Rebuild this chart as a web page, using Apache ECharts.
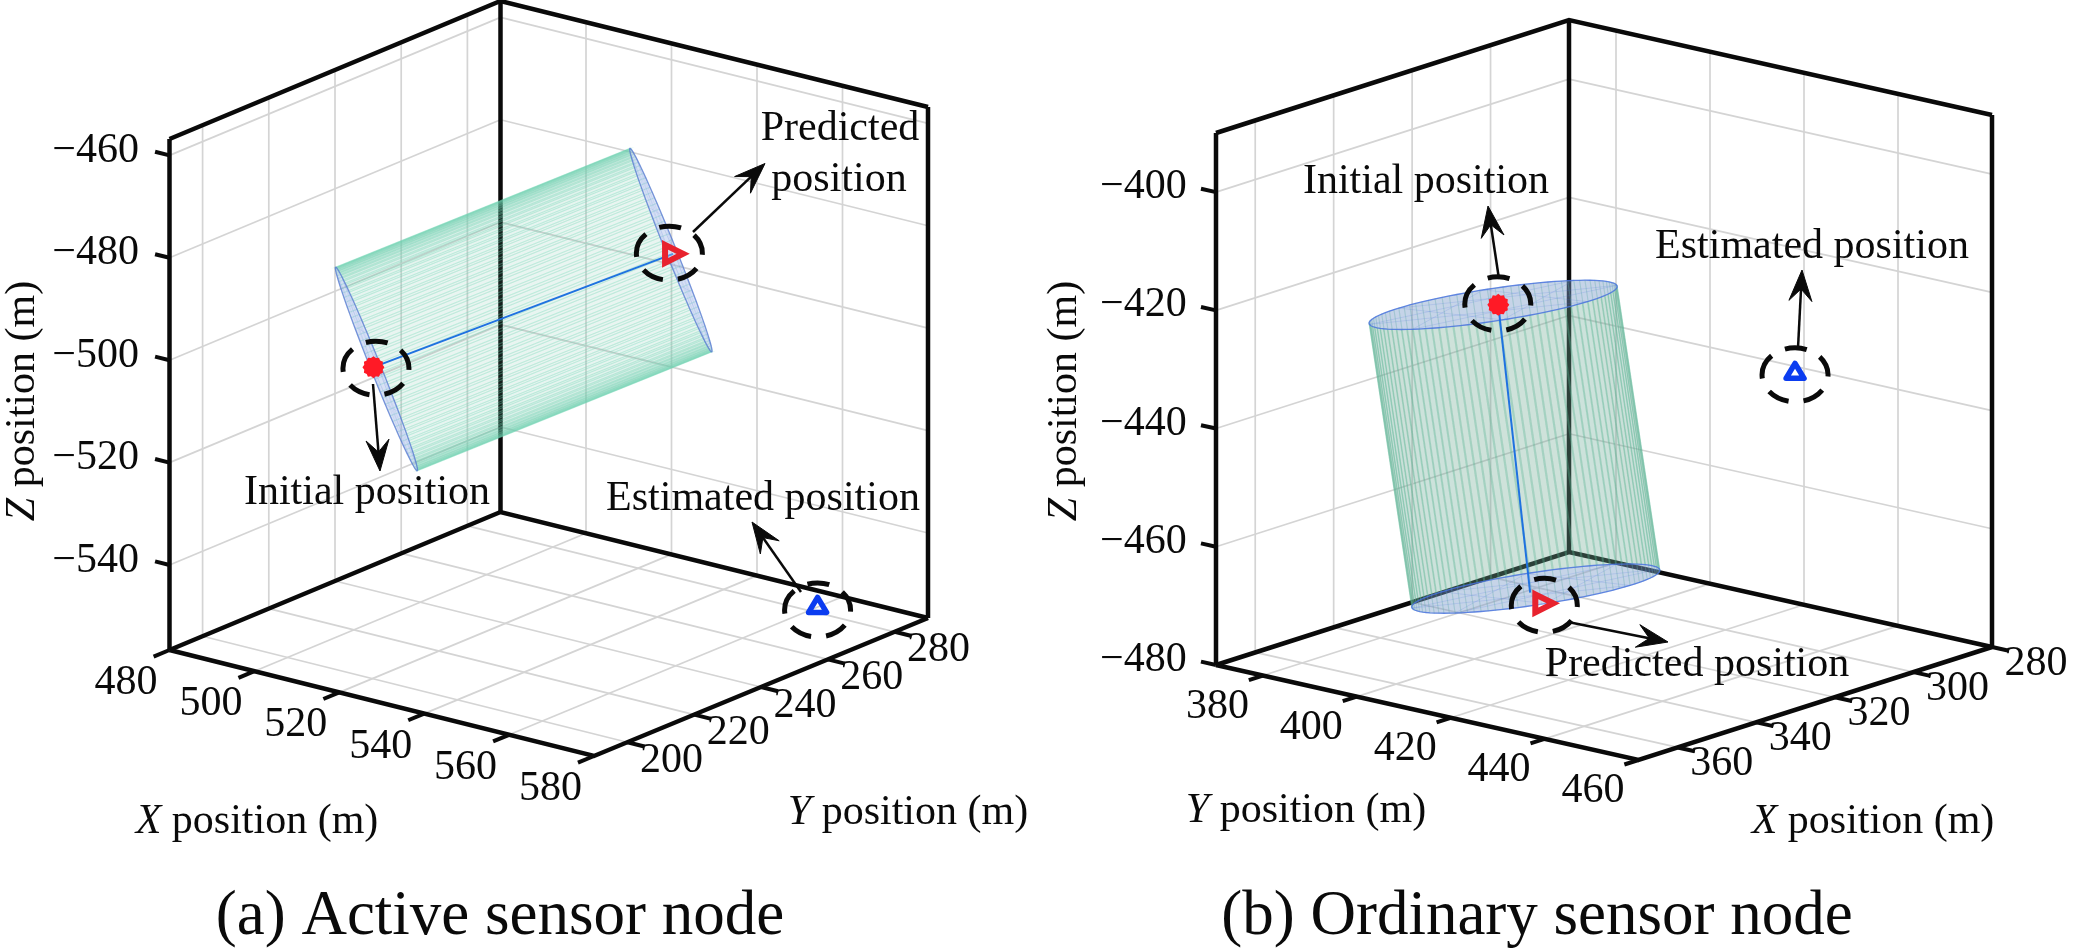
<!DOCTYPE html>
<html><head><meta charset="utf-8">
<script src="https://cdn.jsdelivr.net/npm/echarts@6/dist/echarts.min.js"></script>
<style>html,body{margin:0;padding:0;background:#fff}#c{width:2079px;height:952px}</style>
</head><body><div id="c"></div>
<script>
// ---- values (metres) ----
const xTicksA=[480,500,520,540,560,580];
const yTicksA=[200,220,240,260,280];
const zTicksA=[-540,-520,-500,-480,-460];
const initialA=[500,225.9,-506.9];
const cylStartA=[500,226.8,-507.5];
const cylEndA=[540.27,263.77,-485.91];
const predictedA=[539.2,265.8,-487.4];
const estimatedA=[569,271,-551.4];
const radiusA=20.3;

const xTicksB=[280,300,320,340,360];
const yTicksB=[380,400,420,440,460];
const zTicksB=[-480,-460,-440,-420,-400];
const initialB=[330,396.7,-422.8];
const topCentreB=[330,395.6,-423];
const bottomCentreB=[330.5,405.1,-469.2];
const lineEndB=[330.5,403.9,-470.1];
const predictedB=[330.5,406.7,-471.4];
const estimatedB=[300,434.8,-433.7];
const radiusB=20.5;

const FONT='"Liberation Serif"';
const panelA={xr:[480,580],yr:[190,290],zr:[-556.6,-456.8],height:511,
  c00:[169.5,650],c10:[594,756],c01:[500.5,512],c11:[928,618]};
const panelB={xr:[280,370],yr:[370,460],zr:[-480,-390],height:532,
  c00:[1569,552],c10:[1216,665],c01:[1992,647],c11:[1638.5,760]};

function proj(p,x,y,z){
  const u=(x-p.xr[0])/(p.xr[1]-p.xr[0]), v=(y-p.yr[0])/(p.yr[1]-p.yr[0]), w=(z-p.zr[0])/(p.zr[1]-p.zr[0]);
  const sx=(1-u)*(1-v)*p.c00[0]+u*(1-v)*p.c10[0]+(1-u)*v*p.c01[0]+u*v*p.c11[0];
  const sy=(1-u)*(1-v)*p.c00[1]+u*(1-v)*p.c10[1]+(1-u)*v*p.c01[1]+u*v*p.c11[1];
  return [sx,sy-w*p.height];
}
const P3=(p,a)=>proj(p,a[0],a[1],a[2]);

const under=[],over=[];
const GRID={stroke:'#d4d4d4',lineWidth:1.7,fill:null};
const AX={stroke:'#0a0a0a',lineWidth:4.5,fill:null,lineJoin:'miter'};
function pl(layer,pts,style){layer.push({k:'polyline',pts,style});}
function pg(layer,pts,style){layer.push({k:'polygon',pts,style});}
function txt(layer,x,y,text,o={}){layer.push({k:'text',x,y,text,...o});}

function frame(p,xT,yT,zT,wallX,wallY){
  const [x0,x1]=p.xr,[y0,y1]=p.yr,[z0,z1]=p.zr;
  xT.forEach(x=>{
    pl(under,[proj(p,x,y0,z0),proj(p,x,y1,z0)],GRID);
    pl(under,[proj(p,x,wallY,z0),proj(p,x,wallY,z1)],GRID);
  });
  yT.forEach(y=>{
    pl(under,[proj(p,x0,y,z0),proj(p,x1,y,z0)],GRID);
    pl(under,[proj(p,wallX,y,z0),proj(p,wallX,y,z1)],GRID);
  });
  zT.forEach(z=>{
    pl(under,[proj(p,x0,wallY,z),proj(p,x1,wallY,z)],GRID);
    pl(under,[proj(p,wallX,y0,z),proj(p,wallX,y1,z)],GRID);
  });
}
function box(p,corners,xT,yT,zT,xSide,ySide,zEdge,tick,lab){
  const [z0,z1]=p.zr;
  const {L,B,R,F}=corners;
  const f=c=>proj(p,c[0],c[1],z0), t=c=>proj(p,c[0],c[1],z1);
  pl(under,[f(L),f(B),f(R)],AX);
  pl(over,[f(L),f(F),f(R)],AX);
  pl(over,[t(L),t(B),t(R)],AX);
  pl(over,[f(L),t(L)],AX);
  pl(over,[f(R),t(R)],AX);
  pl(under,[f(B),t(B)],AX);
  const TK={stroke:'#0a0a0a',lineWidth:4,fill:null};
  xT.forEach(x=>{const a=proj(p,x,xSide,z0),b=proj(p,x,xSide+tick.x,z0);pl(over,[a,b],TK);
    txt(over,a[0]+lab.x[0],a[1]+lab.x[1],String(x),{size:42});});
  yT.forEach(y=>{const a=proj(p,ySide,y,z0),b=proj(p,ySide+tick.y,y,z0);pl(over,[a,b],TK);
    txt(over,a[0]+lab.y[0],a[1]+lab.y[1],String(y),{size:42});});
  zT.forEach(z=>{const a=proj(p,zEdge[0],zEdge[1],z),b=proj(p,zEdge[0]+tick.z[0],zEdge[1]+tick.z[1],z);pl(over,[a,b],TK);
    txt(over,a[0]+lab.z[0],a[1]+lab.z[1],'\u2212'+Math.abs(z),{size:42,align:'right'});});
}

function basis(ax){
  const n=Math.hypot(...ax),d=ax.map(v=>v/n);
  const h=Math.abs(d[2])<0.9?[0,0,1]:[1,0,0];
  const c=(a,b)=>[a[1]*b[2]-a[2]*b[1],a[2]*b[0]-a[0]*b[2],a[0]*b[1]-a[1]*b[0]];
  let e1=c(d,h);const m=Math.hypot(...e1);e1=e1.map(v=>v/m);
  return [e1,c(d,e1)];
}
function cylinder(p,c0,c1,r,st){
  const ax=c1.map((v,i)=>v-c0[i]);
  const [e1,e2]=basis(ax);
  const N=100;
  const rim=(c,t)=>{const q=c.map((v,i)=>v+r*(Math.cos(t)*e1[i]+Math.sin(t)*e2[i]));return P3(p,q);};
  const ctr=P3(p,c0);
  const dist=[];let mx=0;
  for(let i=0;i<N;i++){const q=rim(c0,(i+.5)/N*2*Math.PI),d=Math.hypot(q[0]-ctr[0],q[1]-ctr[1]);dist.push(d);if(d>mx)mx=d;}
  for(let i=0;i<N;i++){
    const a=i/N*2*Math.PI,b=(i+1)/N*2*Math.PI;
    const s=Math.pow(dist[i]/mx,st.pow);
    const fill='rgba('+st.rgb+','+(st.base+st.edge*s).toFixed(3)+')';
    pg(under,[rim(c0,a),rim(c0,b),rim(c1,b),rim(c1,a)],{fill,stroke:st.line,lineWidth:1.1});
  }
  [c0,c1].forEach(c=>{
    const pts=[];for(let i=0;i<N;i++)pts.push(rim(c,i/N*2*Math.PI));
    pg(under,pts,{fill:st.cap,stroke:st.capLine,lineWidth:1.3});
    for(let i=0;i<8;i++){
      pl(under,[rim(c,i/8*2*Math.PI),rim(c,(i+3)/8*2*Math.PI)],{stroke:st.chord,lineWidth:1,fill:null});
    }
  });
}
function dashEllipse(c,off){
  over.push({k:'ellipse',c:[c[0]+off[0],c[1]+off[1]],rx:33,ry:27,style:{fill:null,stroke:'#0a0a0a',lineWidth:5,lineDash:[22,15]}});
}
function arrow(a,b){
  const dx=b[0]-a[0],dy=b[1]-a[1],L=Math.hypot(dx,dy),ux=dx/L,uy=dy/L,nx=-uy,ny=ux;
  const back=(d,w)=>[b[0]-ux*d+nx*w,b[1]-uy*d+ny*w];
  pl(over,[a,back(18,0)],{stroke:'#0a0a0a',lineWidth:2.5,fill:null});
  pg(over,[b,back(31,11.5),back(19,0),back(31,-11.5)],{fill:'#0a0a0a',stroke:'#0a0a0a',lineWidth:1});
}
function triRight(c){return[[c[0]-8,c[1]-9],[c[0]+10,c[1]],[c[0]-8,c[1]+9]];}
function triUp(c){return[[c[0],c[1]-8.5],[c[0]+9,c[1]+6.5],[c[0]-9,c[1]+6.5]];}
function jagged(c){const q=[];for(let i=0;i<24;i++){const t=i/24*2*Math.PI,r=i%2?9.5:11;q.push([c[0]+r*Math.cos(t),c[1]+r*Math.sin(t)]);}return q;}
const REDT={fill:'rgba(255,255,255,0.25)',stroke:'#e8232e',lineWidth:6,lineJoin:'miter'};
const BLUET={fill:null,stroke:'#0b3cf0',lineWidth:5.5,lineJoin:'round'};
const BLUEL={stroke:'#1f72e0',lineWidth:2,fill:null};

// ---- Panel A ----
frame(panelA,xTicksA,yTicksA,zTicksA,480,290);
box(panelA,{L:[480,190],B:[480,290],R:[580,290],F:[580,190]},xTicksA,yTicksA,zTicksA,190,580,[480,190],
  {x:-4.8,y:4,z:[-3.4,0]},{x:[-43.5,33],y:[44,18.5],z:[-30.5,-4.5]});
cylinder(panelA,cylStartA,cylEndA,radiusA,{rgb:'100,190,160',base:0.07,edge:0.24,pow:10,line:'rgba(115,220,185,0.20)',cap:'rgba(150,170,235,0.30)',capLine:'rgba(80,110,210,0.7)',chord:'rgba(90,120,220,0.12)'});
pl(under,[P3(panelA,initialA),P3(panelA,predictedA)],BLUEL);
// ---- Panel B ----
frame(panelB,xTicksB,yTicksB,zTicksB,280,370);
box(panelB,{L:[370,370],B:[280,370],R:[280,460],F:[370,460]},xTicksB,yTicksB,zTicksB,460,370,[370,370],
  {x:3.6,y:3.6,z:[0,-3.2]},{x:[44,17],y:[-45.5,31],z:[-29.3,-5]});
cylinder(panelB,bottomCentreB,topCentreB,radiusB,{rgb:'110,170,150',base:0.19,edge:0.02,pow:6,line:'rgba(90,185,150,0.20)',cap:'rgba(130,150,225,0.30)',capLine:'rgba(70,110,225,0.8)',chord:'rgba(70,110,225,0.16)'});
pl(under,[P3(panelB,initialB),P3(panelB,lineEndB)],BLUEL);

// markers
[[panelA,initialA,[2.5,1]],[panelB,initialB,[-.5,-1]]].forEach(([p,v,o])=>{
  const c=P3(p,v);pg(over,jagged(c),{fill:'#ff1a26',stroke:null});dashEllipse(c,o);});
[[panelA,predictedA,[-3.7,-.7]],[panelB,predictedB,[1,2]]].forEach(([p,v,o])=>{
  const c=P3(p,v);pg(over,triRight(c),REDT);dashEllipse(c,o);});
[[panelA,estimatedA,[0,4]],[panelB,estimatedB,[0,3]]].forEach(([p,v,o])=>{
  const c=P3(p,v);pg(over,triUp(c),BLUET);dashEllipse(c,o);});

// annotations
arrow([693,232],[765,163.5]);arrow([373,384],[380,471]);arrow([801,592],[752,522]);
arrow([1499,279],[1488,206]);arrow([1798,348],[1802,270]);arrow([1568,622],[1668,642]);
[[840,129,'Predicted'],[839,180,'position'],[367,493,'Initial position'],[763,499,'Estimated position'],
 [1426,182,'Initial position'],[1812,247,'Estimated position'],[1697,665,'Predicted position']]
 .forEach(a=>txt(over,a[0],a[1],a[2],{size:42}));
// axis titles
txt(over,257,822,'{i|X} position (m)',{size:42});
txt(over,908,813,'{i|Y} position (m)',{size:42});
txt(over,23,401,'{i|Z} position (m)',{size:42,rot:Math.PI/2});
txt(over,1065,401,'{i|Z} position (m)',{size:42,rot:Math.PI/2});
txt(over,1306,811,'{i|Y} position (m)',{size:42});
txt(over,1873,822,'{i|X} position (m)',{size:42});
txt(over,500,917,'(a) Active sensor node',{size:63});
txt(over,1537,917,'(b) Ordinary sensor node',{size:63});

function render(list){
  return function(params,api){
    const s=list[params.dataIndex];
    const C=q=>api.coord(q);
    if(s.k==='polyline')return{type:'polyline',shape:{points:s.pts.map(C)},style:s.style,silent:true};
    if(s.k==='polygon')return{type:'polygon',shape:{points:s.pts.map(C)},style:s.style,silent:true};
    if(s.k==='ellipse'){const c=C(s.c);return{type:'ellipse',shape:{cx:c[0],cy:c[1],rx:s.rx,ry:s.ry},style:s.style,silent:true};}
    const c=C([s.x,s.y]);
    return{type:'text',x:c[0],y:c[1],rotation:s.rot||0,silent:true,style:{text:s.text,fill:'#0a0a0a',
      fontFamily:FONT,fontSize:s.size,align:s.align||'center',verticalAlign:'middle',
      rich:{i:{fontFamily:FONT,fontStyle:'italic',fontSize:s.size,fill:'#0a0a0a'}}}};
  };
}
const mk=(list,z)=>({type:'custom',coordinateSystem:'cartesian2d',clip:false,z,silent:true,
  renderItem:render(list),data:list.map((_,i)=>[i]),animation:false});
const chart=echarts.init(document.getElementById('c'),null,{renderer:'canvas'});
chart.setOption({animation:false,backgroundColor:'#fff',tooltip:{show:false},
  grid:{left:0,top:0,width:2079,height:952,containLabel:false},
  xAxis:{type:'value',min:0,max:2079,show:false},
  yAxis:{type:'value',min:0,max:952,inverse:true,show:false},
  series:[mk(under,2),mk(over,3)]});
</script></body></html>
